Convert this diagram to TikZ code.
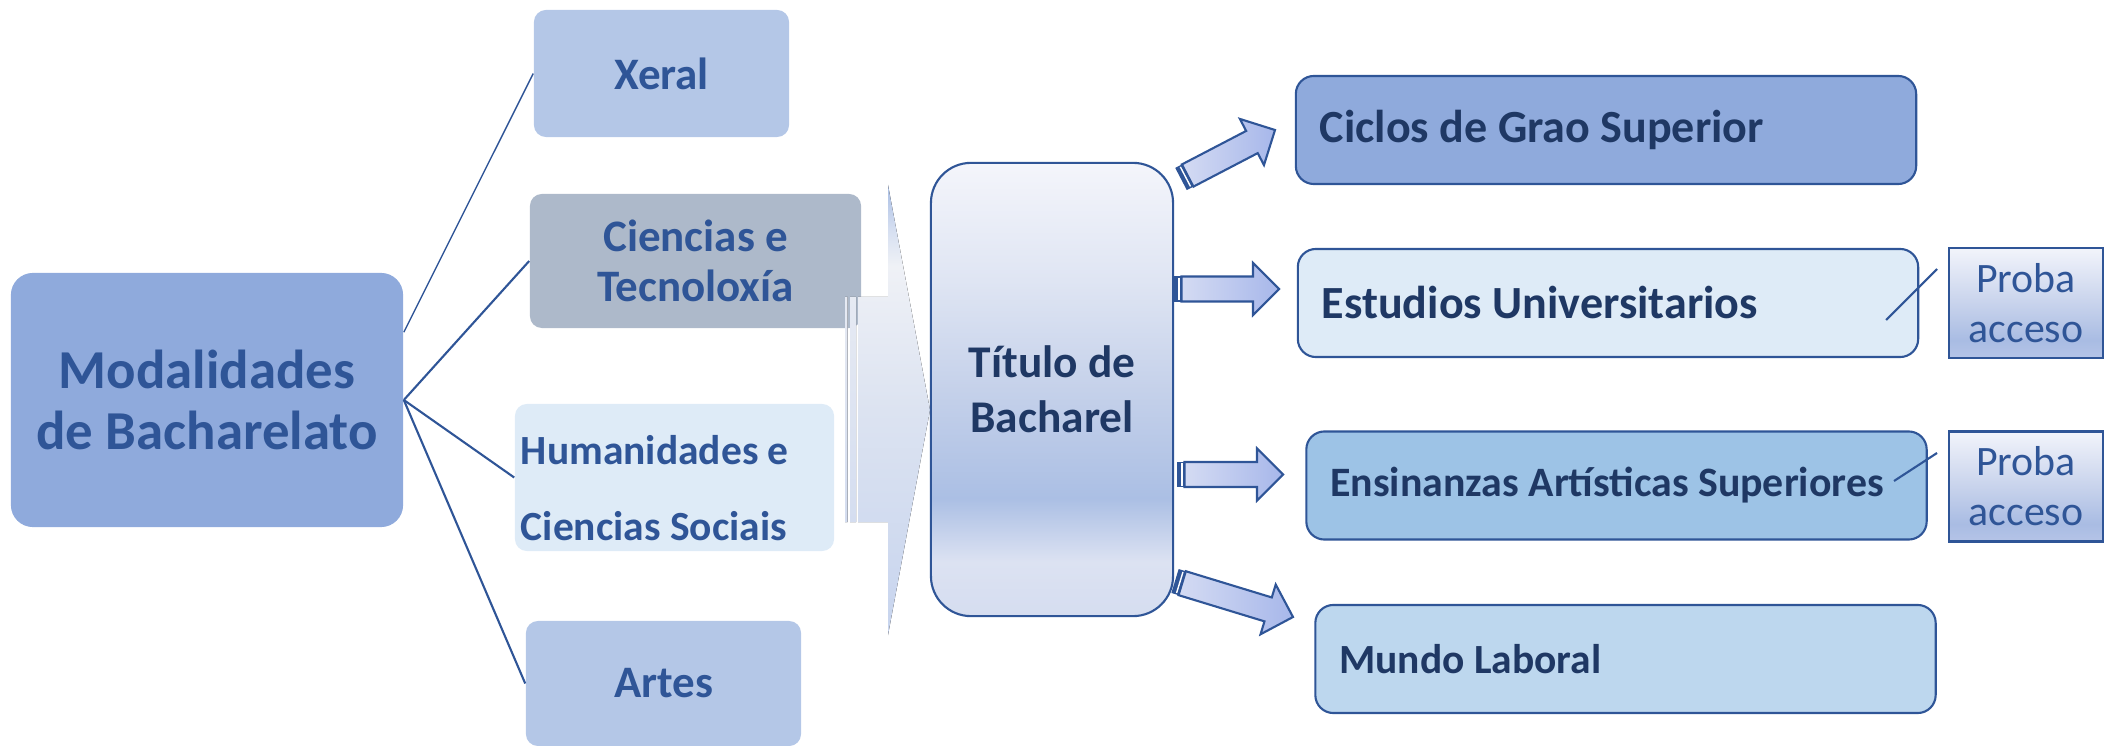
\documentclass[tikz,border=0pt]{standalone}
\usepackage{fontspec}
\setmainfont{Carlito}
\usepackage{tikz}
\usetikzlibrary{calc}
\usetikzlibrary{positioning}

\definecolor{linkblue}{HTML}{2F5597}
\definecolor{textnavy}{HTML}{1F3864}
\definecolor{modfill}{HTML}{8FAADC}
\definecolor{xeralfill}{HTML}{B4C7E7}
\definecolor{cienciasfill}{HTML}{ADB9CA}
\definecolor{humfill}{HTML}{DEEBF7}
\definecolor{ciclosfill}{HTML}{8FAADC}
\definecolor{estfill}{HTML}{DEEBF7}
\definecolor{ensfill}{HTML}{9DC3E6}
\definecolor{mundofill}{HTML}{BDD7EE}

\pgfdeclareverticalshading{tituloshade}{100bp}{color(0bp)=(rgb,255:red,213;green,221;blue,240);
  color(25bp)=(rgb,255:red,213;green,221;blue,240); color(31bp)=(rgb,255:red,220;green,226;blue,242);
  color(38bp)=(rgb,255:red,171;green,191;blue,228); color(50bp)=(rgb,255:red,197;green,209;blue,234);
  color(62bp)=(rgb,255:red,223;green,229;blue,243); color(75bp)=(rgb,255:red,244;green,245;blue,251);
  color(100bp)=(rgb,255:red,244;green,245;blue,251)}
\pgfdeclareverticalshading{bigshade}{100bp}{color(0bp)=(rgb,255:red,199;green,212;blue,238);
  color(25bp)=(rgb,255:red,199;green,212;blue,238); color(50bp)=(rgb,255:red,220;green,227;blue,241);
  color(66bp)=(rgb,255:red,239;green,241;blue,246); color(70bp)=(rgb,255:red,214;green,223;blue,241);
  color(75bp)=(rgb,255:red,169;green,190;blue,228); color(100bp)=(rgb,255:red,169;green,190;blue,228)}
\pgfdeclareverticalshading{probashade}{100bp}{color(0bp)=(rgb,255:red,181;green,196;blue,231);
  color(25bp)=(rgb,255:red,181;green,196;blue,231); color(33bp)=(rgb,255:red,169;green,188;blue,227);
  color(50bp)=(rgb,255:red,200;green,211;blue,236); color(75bp)=(rgb,255:red,242;green,244;blue,251);
  color(100bp)=(rgb,255:red,242;green,244;blue,251)}

\tikzset{
  leftbox/.style={rounded corners=0.12cm, inner sep=0pt, text=linkblue, align=center,
    font=\fontsize{12.8}{14.2}\selectfont\bfseries},
  destbox/.style={draw=linkblue, line width=0.6pt, rounded corners=0.18cm, minimum height=1.08cm,
    inner xsep=0.24cm, inner ysep=0pt, text width=5.72cm, align=flush left, text=textnavy,
    font=\fontsize{13.1}{15}\selectfont\bfseries},
  probabox/.style={draw=linkblue, line width=0.6pt, shading=probashade, minimum width=1.54cm,
    minimum height=1.10cm, inner sep=0pt, align=center, text=linkblue,
    font=\fontsize{11.9}{14.2}\selectfont},
  link/.style={draw=linkblue, line width=0.6pt},
  arrowbody/.style={draw=linkblue, line width=0.6pt, left color={rgb,255:red,212;green,219;blue,243},
    right color={rgb,255:red,167;green,183;blue,234}}
}

% block arrow with striped tail, from #1 to #2
\newcommand{\blockarrow}[2]{%
  \coordinate (ba0) at ($(#1)!0.05cm!(#2)$);
  \coordinate (ba2) at ($(#1)!0.075cm!(#2)$);
  \coordinate (bah) at ($(#2)!0.26cm!(#1)$);
  \fill[linkblue] ($(#1)!0.125cm!90:(#2)$) -- ($(#1)!0.125cm!-90:(#2)$)
    -- ($(ba2)!0.125cm!-90:(#2)$) -- ($(ba2)!0.125cm!90:(#2)$) -- cycle;
  \draw[white, line width=0.4pt] ($(ba0)!0.11cm!90:(#2)$) -- ($(ba0)!0.11cm!-90:(#2)$);
  \draw[arrowbody] ($(ba2)!0.125cm!90:(#2)$) -- ($(bah)!0.125cm!90:(#2)$) -- ($(bah)!0.26cm!90:(#2)$)
    -- (#2) -- ($(bah)!0.26cm!-90:(#2)$) -- ($(bah)!0.125cm!-90:(#2)$)
    -- ($(ba2)!0.125cm!-90:(#2)$) -- cycle;
}

\begin{document}
\begin{tikzpicture}[x=0.01cm, y=-0.01cm]
    \useasboundingbox (0,0) rectangle (2112,746);

    % modalidades
    \node[leftbox, fill=modfill, minimum width=3.92cm, minimum height=2.54cm, rounded corners=0.22cm,
        font=\fontsize{15.6}{17.4}\selectfont\bfseries] (modal) at (207,400) {Modalidades\\de Bacharelato};
    \node[leftbox, fill=xeralfill, minimum width=2.55cm, minimum height=1.27cm] (xeral) at (661.5,73.5) {Xeral};
    \node[leftbox, fill=cienciasfill, minimum width=3.31cm, minimum height=1.34cm] (ciencias) at (695.5,261) {Ciencias e\\Tecnoloxía};
    \node[leftbox, fill=humfill, minimum width=3.19cm, minimum height=1.47cm, text width=3.07cm, align=flush left,
        inner xsep=0.06cm, font=\fontsize{11.8}{21.6}\selectfont\bfseries] (humanidades) at (674.5,477.5)
        {\rule{0pt}{0.51cm}Humanidades e\\Ciencias Sociais};
    \node[leftbox, fill=xeralfill, minimum width=2.75cm, minimum height=1.25cm] (artes) at (663.5,683.5) {Artes};

    \draw[link, line width=0.4pt] (modal.19) -- (xeral.west);
    \draw[link] (modal.east) -- (ciencias.west);
    \draw[link] (modal.east) -- (humanidades.west);
    \draw[link] (modal.east) -- (artes.west);

    % big arrow
    \fill[shading=bigshade] (858,297) -- (888,297) -- (888,185) -- (930,410) -- (888,635)
        -- (888,522) -- (858,522) -- cycle;
    \fill[top color={rgb,255:red,230;green,234;blue,243}, bottom color={rgb,255:red,212;green,221;blue,240}]
        (845,297) rectangle (847.5,522) (850,297) rectangle (856,522);

    % titulo
    \node[draw=linkblue, line width=0.6pt, rounded corners=0.4cm, shading=tituloshade, minimum width=2.42cm,
        minimum height=4.53cm, inner sep=0pt, align=center, text=textnavy,
        font=\fontsize{12.9}{15.5}\selectfont\bfseries] (titulo) at (1052,389.5) {Título de\\Bacharel};

    % destinos
    \node[destbox, fill=ciclosfill] (ciclos) at (1606,130) {Ciclos de Grao Superior};
    \node[destbox, fill=estfill] (estudios) at (1608,303) {Estudios Universitarios};
    \node[destbox, fill=ensfill, font=\fontsize{11.9}{14}\selectfont\bfseries] (ensinanzas) at (1616.5,485.5)
        {Ensinanzas Artísticas Superiores};
    \node[destbox, fill=mundofill, font=\fontsize{11.8}{14}\selectfont\bfseries] (mundo) at (1625.5,659) {Mundo Laboral};

    \node[probabox] (proba1) at (2026,303) {Proba\\acceso};
    \node[probabox] (proba2) at (2026,486.5) {Proba\\acceso};

    \coordinate (proba1a) at (1886,320);
    \coordinate (proba1b) at (1937,269);
    \coordinate (proba2a) at (1894,481);
    \coordinate (proba2b) at (1937,453);
    \draw[link] (proba1a) -- (proba1b);
    \draw[link] (proba2a) -- (proba2b);

    % frechas
    \coordinate (a1s) at (1181,179);   \coordinate (a1e) at (1275,130);
    \coordinate (a2s) at (1174,289);   \coordinate (a2e) at (1279,289);
    \coordinate (a3s) at (1177,474.5); \coordinate (a3e) at (1283,474.5);
    \coordinate (a4s) at (1175,581);   \coordinate (a4e) at (1293,617);
    \blockarrow{a1s}{a1e}
    \blockarrow{a2s}{a2e}
    \blockarrow{a3s}{a3e}
    \blockarrow{a4s}{a4e}
\end{tikzpicture}
\end{document}
